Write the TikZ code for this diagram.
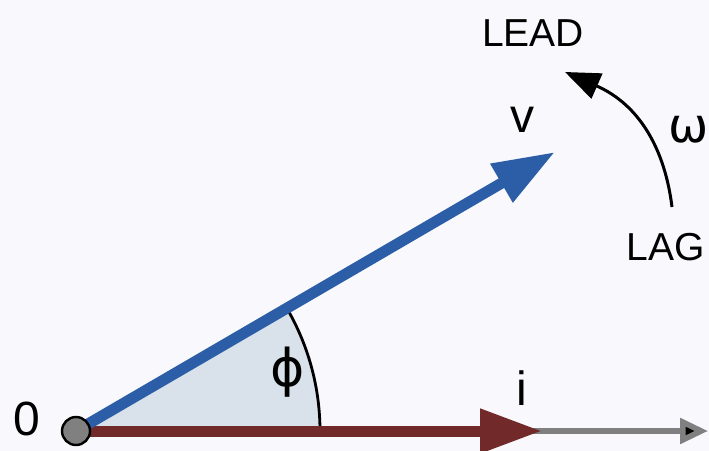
\documentclass[tikz,border=0pt]{standalone}
\usepackage{fontspec}
\setmainfont{Liberation Sans}
\newfontfamily\greekfont{DejaVu Sans}
\usepackage{xcolor}
\definecolor{vblue}{RGB}{43,94,167}
\definecolor{ired}{RGB}{114,41,41}
\definecolor{wedgefill}{RGB}{217,225,235}
\definecolor{bgpale}{RGB}{249,249,253}
\usepackage{tikz}
\usetikzlibrary{arrows.meta, positioning, calc}

\begin{document}
\begin{tikzpicture}[
  x=0.5pt, y=-0.5pt,
  lbl/.style={inner sep=0pt, font=\fontsize{19.5}{22}\selectfont},
  biglbl/.style={inner sep=0pt, font=\fontsize{24}{28}\selectfont},
  phasor/.style={line width=5.5pt, -{Triangle[length=31pt, width=21pt]}},
  axis/.style={line width=2.8pt, draw=gray,
               -{Triangle[length=14pt, width=12.5pt, fill=black]}},
]
\useasboundingbox (0,0) rectangle (709,451);
\fill[bgpale] (0,0) rectangle (709,451);

%% --- points ---
\coordinate (O)    at (76,431);
\coordinate (vtip) at (555,152);
\coordinate (itip) at (542,431);
\coordinate (xend) at (708,431);
\coordinate (lag)  at (672,207);
\coordinate (lead) at (565,72);

%% --- angle wedge ---
\fill[wedgefill] (O) -- ++(0:244) arc[start angle=0, end angle=-30.2, radius=244] -- cycle;
\draw[line width=1.4pt] ($(O)+(0:244)$) arc[start angle=0, end angle=-30.2, radius=244];

%% --- phasors ---
\draw[axis] (O) -- (xend);
\draw[phasor, ired] (O) -- (itip);
\draw[phasor, vblue] (O) -- (vtip);

%% --- rotation ---
\draw[line width=1.5pt, -{Triangle[length=17.5pt, width=13.5pt]}]
  (lag) .. controls (665,150) and (640,105) .. (lead);

%% --- origin ---
\node[circle, fill=gray, draw=black, line width=1.2pt,
      minimum size=14pt, inner sep=0pt] (orig) at (O) {};

%% --- labels ---
\node[biglbl] (zero) at (27,419) {0};
\node[biglbl] (ilbl) at (522,388) {i};
\node[biglbl] (vlbl) at (522,120) {v};
\node[biglbl] (phi)  at (288,372) {\greekfont\fontsize{26}{30}\selectfont ϕ};
\node[biglbl] (omega) at (689,130) {\greekfont ω};
\node[lbl] (leadlbl) at (533,33) {LEAD};
\node[lbl] (laglbl)  at (666,247) {LAG};
\end{tikzpicture}
\end{document}
